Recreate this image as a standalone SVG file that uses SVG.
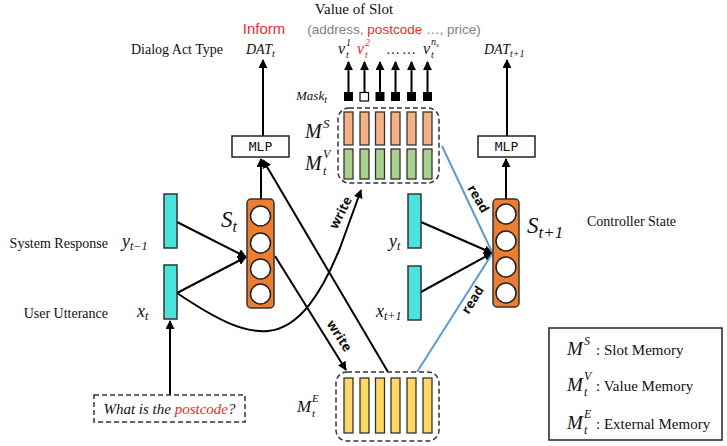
<svg xmlns="http://www.w3.org/2000/svg" width="727" height="446" viewBox="0 0 727 446">
<defs>
<marker id="ah" viewBox="0 0 10 10" refX="9" refY="5" markerWidth="9" markerHeight="9" markerUnits="userSpaceOnUse" orient="auto">
<path d="M0,0 L10,5 L0,10 z" fill="#000"/>
</marker>
</defs>
<style>
.serif{font-family:"Liberation Serif","Times New Roman",serif;fill:#111}
.math{font-family:"Liberation Serif","DejaVu Serif",serif;font-style:italic;fill:#111}
.sans{font-family:"Liberation Sans",Arial,sans-serif}
.mono{font-family:"DejaVu Sans Mono","Liberation Mono",monospace;font-size:13px;fill:#111}
.lbl{font-family:"Open Sans","Liberation Sans",sans-serif;font-weight:bold;font-size:13px;fill:#111}
.con{stroke:#000;stroke-width:2;fill:none}
.blue{stroke:#5b9bd5;stroke-width:2;fill:none}
.cyan{fill:#4ae3de;stroke:#333;stroke-width:1.5}
.state{fill:#ed7d31;stroke:#333;stroke-width:1.5}
.cell{fill:#fff;stroke:#222;stroke-width:1.5}
.ms{fill:#f4b183;stroke:#333;stroke-width:1.3}
.mv{fill:#a9d18e;stroke:#333;stroke-width:1.3}
.me{fill:#ffd966;stroke:#333;stroke-width:1.3}
.dash{fill:none;stroke:#333;stroke-width:1.5;stroke-dasharray:5,3}
.red{fill:#ee2a2a}
</style>
<rect width="727" height="446" fill="#fff"/>

<!-- header texts -->
<text class="serif" x="354" y="14" font-size="15" text-anchor="middle">Value of Slot</text>
<text class="sans" x="394" y="34" font-size="13.5" text-anchor="middle" fill="#808080">(address, <tspan fill="#ee2a2a">postcode</tspan> …, price)</text>
<text class="sans red" x="264" y="34" font-size="15" text-anchor="middle">Inform</text>
<text class="serif" x="177" y="54" font-size="14" text-anchor="middle">Dialog Act Type</text>
<text class="math" x="246" y="54" font-size="14">DAT<tspan font-size="10" dy="3">t</tspan></text>
<text class="math" x="484" y="54" font-size="14">DAT<tspan font-size="10" dy="3">t+1</tspan></text>

<!-- value labels -->
<text class="math" x="338" y="54" font-size="16">v</text>
<text class="math" x="346" y="46" font-size="10">1</text>
<text class="math" x="346" y="58" font-size="10">t</text>
<text class="math red" x="357" y="54" font-size="16">v</text>
<text class="math red" x="365" y="46" font-size="10">2</text>
<text class="math red" x="365" y="58" font-size="10">t</text>
<text class="math" x="387" y="54" font-size="14">… …</text>
<text class="math" x="423" y="54" font-size="16">v</text>
<text class="math" x="431" y="45" font-size="10">n<tspan font-size="7" dy="2">s</tspan></text>
<text class="math" x="431" y="58" font-size="10">t</text>

<!-- left side labels -->
<text class="serif" x="108" y="248" font-size="14" text-anchor="end">System Response</text>
<text class="math" x="122" y="247" font-size="18">y<tspan font-size="12" dy="3">t−1</tspan></text>
<text class="serif" x="108" y="318" font-size="14" text-anchor="end">User Utterance</text>
<text class="math" x="137" y="317" font-size="18">x<tspan font-size="12" dy="3">t</tspan></text>
<text class="math" x="221" y="227" font-size="23">S<tspan font-size="16" dy="5">t</tspan></text>

<!-- right side labels -->
<text class="math" x="389" y="247" font-size="18">y<tspan font-size="12" dy="3">t</tspan></text>
<text class="math" x="376" y="317" font-size="18">x<tspan font-size="12" dy="3">t+1</tspan></text>
<text class="math" x="527" y="233" font-size="23">S<tspan font-size="17" dy="5">t+1</tspan></text>
<text class="serif" x="587" y="226" font-size="14">Controller State</text>

<!-- memory labels -->
<text class="math" x="296" y="100" font-size="13">Mask<tspan font-size="10" dy="3">t</tspan></text>
<text class="math" x="305" y="138" font-size="20">M</text>
<text class="math" x="323" y="128" font-size="13">S</text>
<text class="math" x="305" y="170" font-size="20">M</text>
<text class="math" x="323" y="158" font-size="12">V</text>
<text class="math" x="323" y="175" font-size="12">t</text>
<text class="math" x="297" y="412" font-size="17">M</text>
<text class="math" x="312" y="402" font-size="11">E</text>
<text class="math" x="312" y="417" font-size="11">t</text>

<!-- connectors -->
<g id="connectors">
<line class="con" x1="263" y1="136" x2="263" y2="60" marker-end="url(#ah)"/>
<line class="con" x1="507" y1="136" x2="507" y2="60" marker-end="url(#ah)"/>
<line class="con" x1="261" y1="199" x2="261" y2="159" marker-end="url(#ah)"/>
<line class="con" x1="506" y1="199" x2="506" y2="159" marker-end="url(#ah)"/>
<line class="con" x1="388" y1="372" x2="263" y2="160" marker-end="url(#ah)"/>
<line class="con" x1="177" y1="222" x2="246" y2="257" marker-end="url(#ah)"/>
<line class="con" x1="177" y1="293" x2="246" y2="257" marker-end="url(#ah)"/>
<line class="con" x1="421" y1="222" x2="492" y2="253" marker-end="url(#ah)"/>
<line class="con" x1="421" y1="292" x2="492" y2="253" marker-end="url(#ah)"/>
<line class="con" x1="170" y1="395" x2="170" y2="321" marker-end="url(#ah)"/>
<path class="con" d="M177,293 C220,322 245,333 268,331 C300,328 322,292 340,248 L361,190" marker-end="url(#ah)"/>
<line class="con" x1="275" y1="256" x2="346" y2="370" marker-end="url(#ah)"/>
<line class="blue" x1="442" y1="146" x2="492" y2="252"/>
<line class="blue" x1="417" y1="372" x2="492" y2="254"/>
<line class="con" x1="348.5" y1="92" x2="348.5" y2="62" marker-end="url(#ah)"/>
<line class="con" x1="364.5" y1="92" x2="364.5" y2="62" marker-end="url(#ah)"/>
<line class="con" x1="380" y1="92" x2="380" y2="62" marker-end="url(#ah)"/>
<line class="con" x1="395.5" y1="92" x2="395.5" y2="62" marker-end="url(#ah)"/>
<line class="con" x1="411.5" y1="92" x2="411.5" y2="62" marker-end="url(#ah)"/>
<line class="con" x1="427.5" y1="92" x2="427.5" y2="62" marker-end="url(#ah)"/>
<text class="lbl" transform="translate(341,213) rotate(-63)" text-anchor="middle" dy="4">write</text>
<text class="lbl" transform="translate(339,336) rotate(57)" text-anchor="middle" dy="4">write</text>
<text class="lbl" transform="translate(478,199) rotate(60)" text-anchor="middle" dy="4">read</text>
<text class="lbl" transform="translate(473,300) rotate(-58)" text-anchor="middle" dy="4">read</text>
</g>

<!-- nodes -->
<g id="mlp-left">
<rect x="232" y="136" width="57" height="21" fill="#fff" stroke="#222" stroke-width="1.5"/>
<text class="mono" x="260.5" y="151" text-anchor="middle">MLP</text>
</g>
<g id="mlp-right">
<rect x="478" y="136" width="57" height="21" fill="#fff" stroke="#222" stroke-width="1.5"/>
<text class="mono" x="506.5" y="151" text-anchor="middle">MLP</text>
</g>
<g id="state-t">
<rect class="state" x="247" y="199" width="27" height="109" rx="4"/>
<circle class="cell" cx="260.5" cy="216" r="10"/>
<circle class="cell" cx="260.5" cy="243" r="10"/>
<circle class="cell" cx="260.5" cy="269" r="10"/>
<circle class="cell" cx="260.5" cy="294" r="10"/>
</g>
<g id="state-t1">
<rect class="state" x="493" y="199" width="26" height="108" rx="4"/>
<circle class="cell" cx="506" cy="214" r="10"/>
<circle class="cell" cx="506" cy="241" r="10"/>
<circle class="cell" cx="506" cy="267" r="10"/>
<circle class="cell" cx="506" cy="293" r="10"/>
</g>
<g id="y-prev"><rect class="cyan" x="164" y="194" width="13" height="54"/></g>
<g id="x-t"><rect class="cyan" x="164" y="265" width="13" height="54"/></g>
<g id="y-t"><rect class="cyan" x="408" y="194" width="13" height="54"/></g>
<g id="x-next"><rect class="cyan" x="408" y="266" width="13" height="54"/></g>

<g id="mask">
<rect x="344" y="92" width="9" height="9" fill="#000"/>
<rect x="360" y="92.5" width="8.5" height="8.5" fill="#fff" stroke="#000" stroke-width="1.2"/>
<rect x="375.5" y="92" width="9" height="9" fill="#000"/>
<rect x="391" y="92" width="9" height="9" fill="#000"/>
<rect x="407" y="92" width="9" height="9" fill="#000"/>
<rect x="423" y="92" width="9" height="9" fill="#000"/>
</g>
<g id="memory-sv">
<rect class="dash" x="338" y="108" width="101" height="75" rx="11"/>
<rect class="ms" x="344" y="112" width="9" height="33"/>
<rect class="ms" x="360" y="112" width="9" height="33"/>
<rect class="ms" x="375.5" y="112" width="9" height="33"/>
<rect class="ms" x="391" y="112" width="9" height="33"/>
<rect class="ms" x="407" y="112" width="9" height="33"/>
<rect class="ms" x="423" y="112" width="9" height="33"/>
<rect class="mv" x="344" y="149" width="9" height="30"/>
<rect class="mv" x="360" y="149" width="9" height="30"/>
<rect class="mv" x="375.5" y="149" width="9" height="30"/>
<rect class="mv" x="391" y="149" width="9" height="30"/>
<rect class="mv" x="407" y="149" width="9" height="30"/>
<rect class="mv" x="423" y="149" width="9" height="30"/>
</g>
<g id="memory-e">
<rect class="dash" x="336" y="372" width="103" height="69" rx="11"/>
<rect class="me" x="344" y="378" width="9" height="55"/>
<rect class="me" x="360" y="378" width="9" height="55"/>
<rect class="me" x="375.5" y="378" width="9" height="55"/>
<rect class="me" x="391" y="378" width="9" height="55"/>
<rect class="me" x="407" y="378" width="9" height="55"/>
<rect class="me" x="423" y="378" width="9" height="55"/>
</g>

<g id="input">
<rect class="dash" x="94" y="395" width="151" height="27"/>
<text class="math" x="169.5" y="414" font-size="15" text-anchor="middle">What is the <tspan fill="#ee2a2a">postcode</tspan>?</text>
</g>

<g id="legend">
<rect x="549" y="328" width="173" height="112" fill="#fff" stroke="#222" stroke-width="1.5"/>
<text class="math" x="567" y="355" font-size="19">M</text>
<text class="math" x="584" y="345" font-size="12">S</text>
<text class="serif" x="596" y="355" font-size="15">: Slot Memory</text>
<text class="math" x="567" y="391" font-size="19">M</text>
<text class="math" x="584" y="380" font-size="12">V</text>
<text class="math" x="584" y="396" font-size="12">t</text>
<text class="serif" x="596" y="391" font-size="15">: Value Memory</text>
<text class="math" x="567" y="429" font-size="19">M</text>
<text class="math" x="584" y="418" font-size="12">E</text>
<text class="math" x="584" y="434" font-size="12">t</text>
<text class="serif" x="596" y="429" font-size="15">: External Memory</text>
</g>
</svg>
